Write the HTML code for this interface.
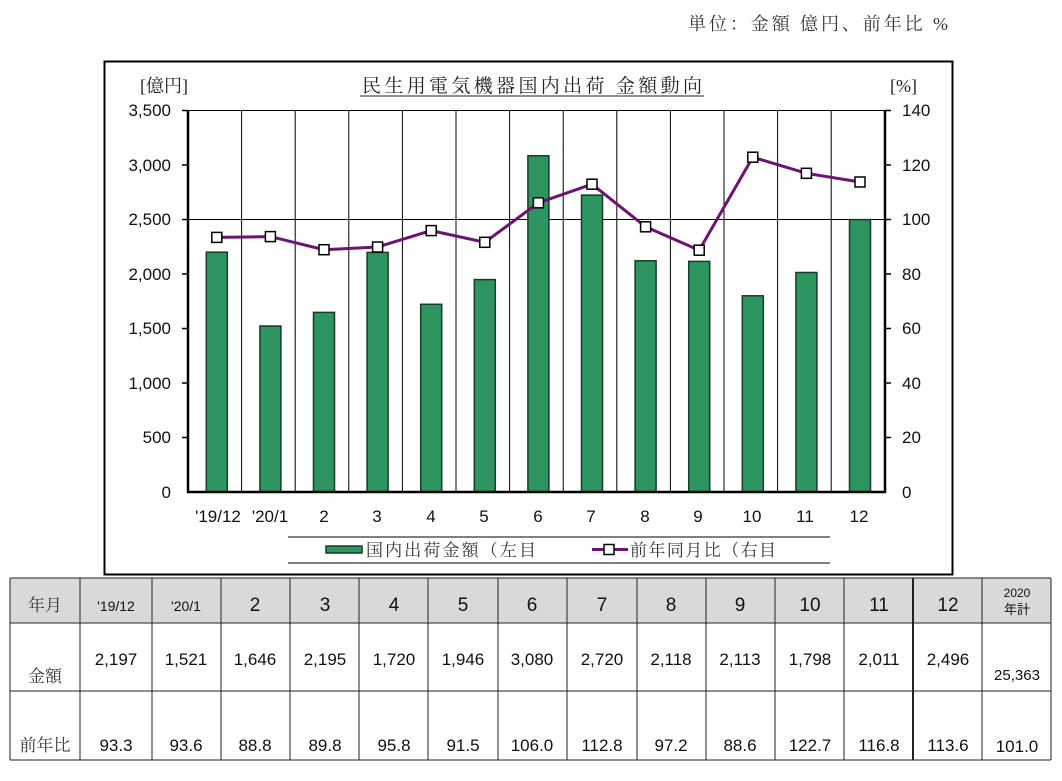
<!DOCTYPE html>
<html><head><meta charset="utf-8"><style>
body{margin:0;background:#fff;}
svg{display:block;font-family:"Liberation Sans","Noto Sans CJK JP",sans-serif;}
.s{font-family:"Liberation Serif","Noto Serif CJK SC",serif;}
</style></head><body>
<svg width="1062" height="781" viewBox="0 0 1062 781" xmlns="http://www.w3.org/2000/svg">
<text class="s" x="948" y="30" font-size="18" text-anchor="end" fill="#333" textLength="260" lengthAdjust="spacing">単位：金額 億円、前年比 %</text>
<rect x="104.5" y="61.5" width="848" height="513" fill="#fff" stroke="#000" stroke-width="2"/>
<text class="s" x="362" y="92" font-size="19" fill="#222" textLength="340" lengthAdjust="spacing">民生用電気機器国内出荷 金額動向</text>
<line x1="360" y1="96" x2="704" y2="96" stroke="#222" stroke-width="1"/>
<text class="s" x="140" y="92" font-size="18" fill="#222">[億円]</text>
<text class="s" x="890" y="92" font-size="18" fill="#222">[%]</text>
<g stroke="#000" stroke-width="1">
<line x1="188" y1="110.5" x2="885" y2="110.5"/>
<line x1="188" y1="219.5" x2="885" y2="219.5"/>
<line x1="241.6" y1="110" x2="241.6" y2="492"/><line x1="295.2" y1="110" x2="295.2" y2="492"/>
<line x1="348.8" y1="110" x2="348.8" y2="492"/><line x1="402.4" y1="110" x2="402.4" y2="492"/>
<line x1="456" y1="110" x2="456" y2="492"/><line x1="509.6" y1="110" x2="509.6" y2="492"/>
<line x1="563.2" y1="110" x2="563.2" y2="492"/><line x1="616.8" y1="110" x2="616.8" y2="492"/>
<line x1="670.4" y1="110" x2="670.4" y2="492"/><line x1="724" y1="110" x2="724" y2="492"/>
<line x1="777.6" y1="110" x2="777.6" y2="492"/><line x1="831.2" y1="110" x2="831.2" y2="492"/>
</g>
<g fill="#2e9460" stroke="#123d26" stroke-width="1.5">
<rect x="206.3" y="252.2" width="21" height="239.8"/>
<rect x="259.9" y="326" width="21" height="166"/>
<rect x="313.5" y="312.4" width="21" height="179.6"/>
<rect x="367.1" y="252.4" width="21" height="239.6"/>
<rect x="420.7" y="304.3" width="21" height="187.7"/>
<rect x="474.3" y="279.6" width="21" height="212.4"/>
<rect x="527.9" y="155.8" width="21" height="336.2"/>
<rect x="581.5" y="195.1" width="21" height="296.9"/>
<rect x="635.1" y="260.8" width="21" height="231.2"/>
<rect x="688.7" y="261.4" width="21" height="230.6"/>
<rect x="742.3" y="295.8" width="21" height="196.2"/>
<rect x="795.9" y="272.5" width="21" height="219.5"/>
<rect x="849.5" y="219.6" width="21" height="272.4"/>
</g>
<g stroke="#000" stroke-width="2.5">
<line x1="188" y1="110" x2="188" y2="493"/>
<line x1="885" y1="110" x2="885" y2="493"/>
<line x1="187" y1="492" x2="886" y2="492"/>
</g>
<g stroke="#000" stroke-width="1.5">
<line x1="182" y1="110.5" x2="188" y2="110.5"/><line x1="182" y1="165" x2="188" y2="165"/><line x1="182" y1="219.5" x2="188" y2="219.5"/><line x1="182" y1="274" x2="188" y2="274"/><line x1="182" y1="328.5" x2="188" y2="328.5"/><line x1="182" y1="383" x2="188" y2="383"/><line x1="182" y1="437.5" x2="188" y2="437.5"/>
<line x1="885" y1="110.5" x2="891" y2="110.5"/><line x1="885" y1="165" x2="891" y2="165"/><line x1="885" y1="219.5" x2="891" y2="219.5"/><line x1="885" y1="274" x2="891" y2="274"/><line x1="885" y1="328.5" x2="891" y2="328.5"/><line x1="885" y1="383" x2="891" y2="383"/><line x1="885" y1="437.5" x2="891" y2="437.5"/>
</g>
<g font-size="17" fill="#111" text-anchor="end">
<text x="171" y="116">3,500</text><text x="171" y="171">3,000</text><text x="171" y="225">2,500</text><text x="171" y="280">2,000</text><text x="171" y="334">1,500</text><text x="171" y="389">1,000</text><text x="171" y="443">500</text><text x="171" y="498">0</text>
</g>
<g font-size="17" fill="#111">
<text x="902" y="116">140</text><text x="902" y="171">120</text><text x="902" y="225">100</text><text x="902" y="280">80</text><text x="902" y="334">60</text><text x="902" y="389">40</text><text x="902" y="443">20</text><text x="902" y="498">0</text>
</g>
<g font-size="17" fill="#111" text-anchor="middle">
<text x="218" y="522">'19/12</text><text x="270" y="522">'20/1</text><text x="324" y="522">2</text><text x="377" y="522">3</text><text x="431" y="522">4</text><text x="484" y="522">5</text><text x="538" y="522">6</text><text x="591" y="522">7</text><text x="645" y="522">8</text><text x="698" y="522">9</text><text x="752" y="522">10</text><text x="805" y="522">11</text><text x="859" y="522">12</text>
</g>
<polyline fill="none" stroke="#6e1470" stroke-width="3" points="216.8,237.4 270.4,236.6 324,249.7 377.6,247 431.2,230.6 484.8,242.3 538.4,202.8 592,184.2 645.6,226.8 699.2,250.2 752.8,157.2 806.4,173.3 860,182"/>
<g fill="#fff" stroke="#000" stroke-width="1.5">
<rect x="211.8" y="232.4" width="10" height="10"/><rect x="265.4" y="231.6" width="10" height="10"/><rect x="319" y="244.7" width="10" height="10"/><rect x="372.6" y="242" width="10" height="10"/><rect x="426.2" y="225.6" width="10" height="10"/><rect x="479.8" y="237.3" width="10" height="10"/><rect x="533.4" y="197.8" width="10" height="10"/><rect x="587" y="179.2" width="10" height="10"/><rect x="640.6" y="221.8" width="10" height="10"/><rect x="694.2" y="245.2" width="10" height="10"/><rect x="747.8" y="152.2" width="10" height="10"/><rect x="801.4" y="168.3" width="10" height="10"/><rect x="855" y="177" width="10" height="10"/>
</g>
<line x1="288" y1="537" x2="830" y2="537" stroke="#000"/>
<line x1="288" y1="563" x2="830" y2="563" stroke="#000"/>
<rect x="326" y="546" width="36" height="7" fill="#2e9460" stroke="#123d26" stroke-width="1.5"/>
<text class="s" x="366" y="556" font-size="17" fill="#333" textLength="170" lengthAdjust="spacing">国内出荷金額（左目</text>
<line x1="592" y1="549.5" x2="628" y2="549.5" stroke="#6e1470" stroke-width="3"/>
<rect x="604" y="544.5" width="10" height="10" fill="#fff" stroke="#000" stroke-width="1.5"/>
<text class="s" x="630" y="556" font-size="17" fill="#333" textLength="146" lengthAdjust="spacing">前年同月比（右目</text>
<rect x="10" y="578" width="1041" height="45" fill="#d9d9d9"/>
<g stroke="#222" stroke-width="1">
<line x1="10" y1="578" x2="1051" y2="578"/><line x1="10" y1="623" x2="1051" y2="623"/><line x1="10" y1="691" x2="1051" y2="691"/><line x1="10" y1="760" x2="1051" y2="760"/>
<line x1="10" y1="578" x2="10" y2="760"/><line x1="80" y1="578" x2="80" y2="760"/><line x1="152" y1="578" x2="152" y2="760"/><line x1="221" y1="578" x2="221" y2="760"/><line x1="290" y1="578" x2="290" y2="760"/><line x1="359" y1="578" x2="359" y2="760"/><line x1="428" y1="578" x2="428" y2="760"/><line x1="498" y1="578" x2="498" y2="760"/><line x1="567" y1="578" x2="567" y2="760"/><line x1="637" y1="578" x2="637" y2="760"/><line x1="706" y1="578" x2="706" y2="760"/><line x1="775" y1="578" x2="775" y2="760"/><line x1="844" y1="578" x2="844" y2="760"/><line x1="913" y1="578" x2="913" y2="760" stroke-width="2"/><line x1="982" y1="578" x2="982" y2="760"/><line x1="1051" y1="578" x2="1051" y2="760"/>
</g>
<g fill="#111" text-anchor="middle">
<text class="s" x="45" y="611" font-size="17" fill="#333">年月</text>
<text x="116" y="611" font-size="14">'19/12</text><text x="186" y="611" font-size="14">'20/1</text>
<g font-size="19"><text x="255" y="611">2</text><text x="325" y="611">3</text><text x="394" y="611">4</text><text x="463" y="611">5</text><text x="532" y="611">6</text><text x="602" y="611">7</text><text x="671" y="611">8</text><text x="740" y="611">9</text><text x="810" y="611">10</text><text x="879" y="611">11</text><text x="948" y="611">12</text></g>
<text x="1017" y="597" font-size="12">2020</text><text x="1017" y="614" font-size="13">年計</text>
<text class="s" x="45" y="682" font-size="17" fill="#333">金額</text>
<g font-size="17"><text x="116" y="665">2,197</text><text x="186" y="665">1,521</text><text x="255" y="665">1,646</text><text x="325" y="665">2,195</text><text x="394" y="665">1,720</text><text x="463" y="665">1,946</text><text x="532" y="665">3,080</text><text x="602" y="665">2,720</text><text x="671" y="665">2,118</text><text x="740" y="665">2,113</text><text x="810" y="665">1,798</text><text x="879" y="665">2,011</text><text x="948" y="665">2,496</text></g>
<text x="1017" y="680" font-size="15">25,363</text>
<text class="s" x="45" y="751" font-size="17" fill="#333">前年比</text>
<g font-size="17"><text x="116" y="751">93.3</text><text x="186" y="751">93.6</text><text x="255" y="751">88.8</text><text x="325" y="751">89.8</text><text x="394" y="751">95.8</text><text x="463" y="751">91.5</text><text x="532" y="751">106.0</text><text x="602" y="751">112.8</text><text x="671" y="751">97.2</text><text x="740" y="751">88.6</text><text x="810" y="751">122.7</text><text x="879" y="751">116.8</text><text x="948" y="751">113.6</text><text x="1017" y="752">101.0</text></g>
</g>
</svg>
</body></html>
